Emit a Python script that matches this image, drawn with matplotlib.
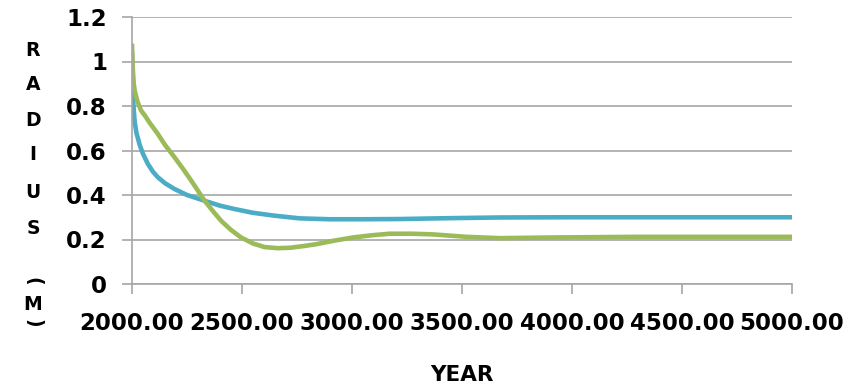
import matplotlib
matplotlib.use("Agg")
import matplotlib.pyplot as plt
import numpy as np

# radius vs year
blue_year = [2000, 2003, 2006, 2012, 2020, 2035, 2050, 2072, 2095, 2117, 2150, 2193,
             2250, 2330, 2400, 2466, 2550, 2648, 2762, 2900, 3050, 3217, 3450, 3673,
             4000, 4500, 5000]
blue_r = [1.03, 0.90, 0.81, 0.73, 0.68, 0.625, 0.585, 0.54, 0.505, 0.48, 0.453, 0.427,
          0.40, 0.374, 0.352, 0.337, 0.32, 0.307, 0.295, 0.291, 0.291, 0.292, 0.296,
          0.299, 0.30, 0.30, 0.30]

green_year = [2000, 2004, 2008, 2012, 2025, 2041, 2060, 2080, 2117, 2150, 2193, 2230,
              2269, 2330, 2370, 2405, 2450, 2496, 2550, 2602, 2663, 2720, 2784, 2838,
              2920, 3004, 3090, 3171, 3270, 3368, 3520, 3673, 3900, 4300, 5000]
green_r = [1.07, 0.96, 0.90, 0.87, 0.82, 0.78, 0.755, 0.725, 0.675, 0.625, 0.57, 0.52,
           0.465, 0.374, 0.325, 0.284, 0.243, 0.209, 0.182, 0.166, 0.161, 0.163, 0.171,
           0.179, 0.195, 0.209, 0.219, 0.226, 0.226, 0.223, 0.212, 0.206, 0.209, 0.212,
           0.212]

xticks = [2000, 2500, 3000, 3500, 4000, 4500, 5000]
yticks = [0, 0.2, 0.4, 0.6, 0.8, 1, 1.2]
ytick_labels = ["0", "0.2", "0.4", "0.6", "0.8", "1", "1.2"]
ylabel_chars = ["R", "A", "D", "I", "U", "S", "(", "M", ")"]

fig = plt.figure(figsize=(8.62, 3.86), dpi=100)
ax = fig.add_axes([132/862, 1-284/386, 660/862, 267/386])

ax.plot(blue_year, blue_r, color="#4BACC6", lw=3.3, solid_joinstyle="round")
ax.plot(green_year, green_r, color="#9BBB59", lw=3.3, solid_joinstyle="round")

ax.set_xlim(2000, 5000)
ax.set_ylim(0, 1.2)
ax.set_xticks(xticks)
ax.set_xticklabels(["%.2f" % v for v in xticks])
ax.set_yticks(yticks)
ax.set_yticklabels(ytick_labels)
ax.grid(axis="y", color="#a6a6a6", lw=1.2)
ax.set_axisbelow(True)

for s in ["top", "right"]:
    ax.spines[s].set_visible(False)
for s in ["left", "bottom"]:
    ax.spines[s].set_color("#a6a6a6")
    ax.spines[s].set_linewidth(1.2)

ax.tick_params(axis="x", direction="out", length=7, width=1.2, color="#a6a6a6", pad=13)
ax.tick_params(axis="y", direction="out", length=7, width=1.2, color="#a6a6a6", pad=11)
for lab in ax.get_xticklabels() + ax.get_yticklabels():
    lab.set_fontweight("bold")
    lab.set_fontsize(16.5)

# stacked vertical y label like excel
ys = [50, 84, 120, 154, 192, 228, 281, 304, 323]
for ch, y in zip(ylabel_chars, ys):
    rot = 0
    if ch in "()":
        rot = -90
    fig.text(33/862, 1-y/386, ch, ha="center", va="center", fontsize=13.5,
             fontweight="bold", rotation=rot)

fig.text(462/862, 1-375/386, "YEAR", ha="center", va="center", fontsize=15.5,
         fontweight="bold")

fig.savefig("out.png", dpi=100)
